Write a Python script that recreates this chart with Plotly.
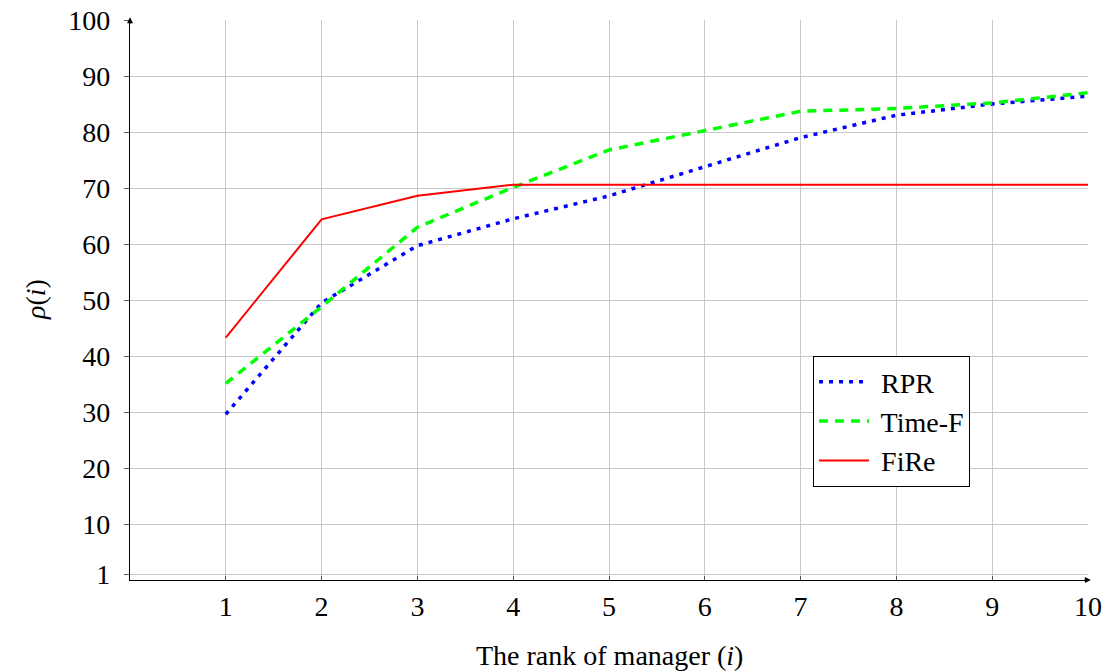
import plotly.graph_objects as go

ranks = [1, 2, 3, 4, 5, 6, 7, 8, 9, 10]
rpr = [29.6, 49.5, 59.7, 64.5, 68.6, 73.8, 79.0, 83.0, 85.0, 86.4]
time_f = [35.1, 48.8, 63.0, 70.1, 76.8, 80.2, 83.7, 84.2, 85.2, 87.0]
fire = [43.3, 64.4, 68.6, 70.6, 70.6, 70.6, 70.6, 70.6, 70.6, 70.6]

x_ticks = [1, 2, 3, 4, 5, 6, 7, 8, 9, 10]
y_ticks = [1, 10, 20, 30, 40, 50, 60, 70, 80, 90, 100]

FONT = "Liberation Serif"
FS = 28

fig = go.Figure()
fig.add_trace(go.Scatter(x=ranks, y=rpr, mode="lines", name=" RPR",
                         line=dict(color="#0000ff", width=3.5, dash="4px,6px")))
fig.add_trace(go.Scatter(x=ranks, y=time_f, mode="lines", name=" Time-F",
                         line=dict(color="#00ff00", width=3.5, dash="9px,7px")))
fig.add_trace(go.Scatter(x=ranks, y=fire, mode="lines", name=" FiRe",
                         line=dict(color="#ff0000", width=2)))

fig.update_layout(
    width=1115, height=672,
    margin=dict(l=130, r=27, t=20, b=92, autoexpand=False),
    plot_bgcolor="white", paper_bgcolor="white",
    font=dict(family=FONT, size=FS, color="black"),
    showlegend=True,
    legend=dict(x=0.713, y=0.4, xanchor="left", yanchor="top",
                bordercolor="black", borderwidth=1, bgcolor="white",
                font=dict(family=FONT, size=FS), itemwidth=50,
                tracegroupgap=0),
    xaxis=dict(range=[0, 10], tickvals=x_ticks, showgrid=True,
               gridcolor="#c8c8c8", gridwidth=1, zeroline=False,
               showline=True, linecolor="black", linewidth=1.2,
               ticks="inside", ticklen=4, tickcolor="#555",
               ticklabelstandoff=1, automargin=False,
               tickfont=dict(family=FONT, size=FS)),
    yaxis=dict(range=[0, 100], tickvals=y_ticks, showgrid=True,
               gridcolor="#c8c8c8", gridwidth=1, zeroline=False,
               showline=True, linecolor="black", linewidth=1.2,
               ticks="outside", ticklen=5, tickcolor="#555",
               ticklabelstandoff=8, automargin=False,
               tickfont=dict(family=FONT, size=FS)),
)

fig.add_annotation(x=0.5, y=(580 - 655) / 560, xref="paper", yref="paper",
                   text="The rank of manager (<i>i</i>)", showarrow=False,
                   yanchor="middle", xanchor="center",
                   font=dict(family=FONT, size=FS))
fig.add_annotation(x=(35 - 130) / 958, y=(580 - 300) / 560, xref="paper", yref="paper",
                   text="<i>ρ</i>(<i>i</i>)", showarrow=False, textangle=-90,
                   xanchor="center", yanchor="middle",
                   font=dict(family=FONT, size=FS))

fig.add_annotation(x=0, y=1.005, xref="paper", yref="paper", ax=0, ay=8,
                   text="", showarrow=True, arrowhead=2, arrowsize=1,
                   arrowwidth=1.2, arrowcolor="black")
fig.add_annotation(x=1.003, y=0, xref="paper", yref="paper", ax=-8, ay=0,
                   text="", showarrow=True, arrowhead=2, arrowsize=1,
                   arrowwidth=1.2, arrowcolor="black")

fig.write_html("out.html", config={"displayModeBar": False},
               post_script="document.body.style.margin='0';document.body.style.overflow='hidden';")
